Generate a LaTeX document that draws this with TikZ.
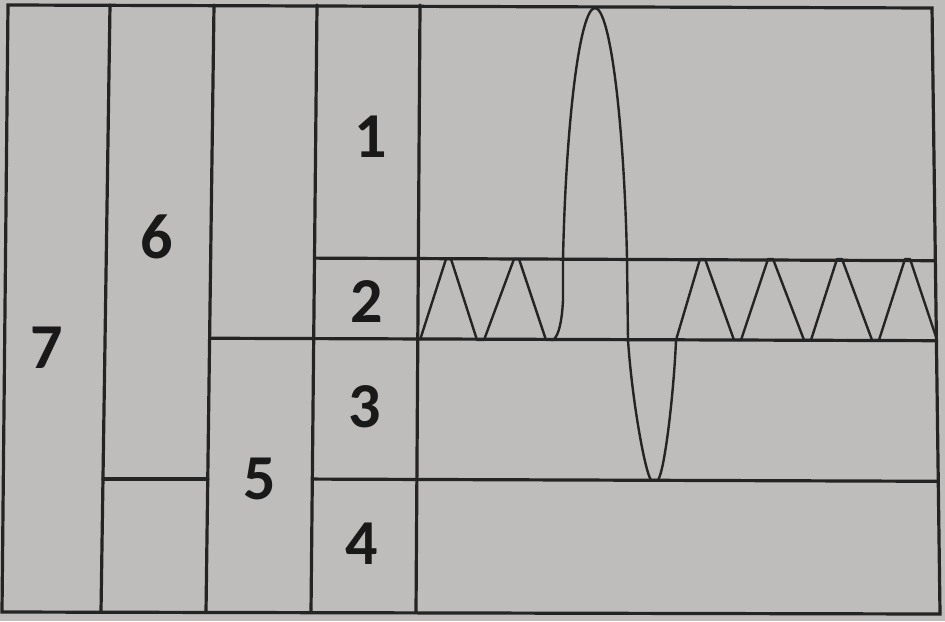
\documentclass[tikz,border=0pt]{standalone}
\usepackage{fontspec}
\setmainfont{Carlito}
\usepackage{tikz}
\usetikzlibrary{calc}
\definecolor{paper}{RGB}{191,189,187}
\definecolor{ink}{RGB}{36,36,36}

\begin{document}
\begin{tikzpicture}[
  x=0.5pt,y=-0.5pt,
  grid/.style={draw=ink,line width=1.6pt,line cap=round},
  wave/.style={draw=ink,line width=1.2pt,line join=round},
  num/.style={font=\fontsize{32}{32}\selectfont\bfseries,text=ink!70!black,inner sep=0pt}
]
\fill[paper] (0,0) rectangle (945,621);
\useasboundingbox (0,0) rectangle (945,621);

% column borders (top and bottom ends)
\coordinate (t0) at (8,5);   \coordinate (b0) at (2,612);
\coordinate (t1) at (110,5); \coordinate (b1) at (101,612);
\coordinate (t2) at (214,5); \coordinate (b2) at (206,612);
\coordinate (t3) at (317,5); \coordinate (b3) at (311,612);
\coordinate (t4) at (420,5); \coordinate (b4) at (416,612);
\coordinate (t5) at (932,8); \coordinate (b5) at (940,614);

\draw[grid] (t0) -- (t5) -- (b5) -- (b0) -- cycle;
\foreach \i in {1,...,4}
  \draw[grid] (t\i) -- (b\i);

% row borders
\draw[grid] ($(t3)!0.417!(b3)$) -- ($(t5)!0.417!(b5)$);
\draw[grid] ($(t2)!0.549!(b2)$) -- ($(t5)!0.549!(b5)$);
\draw[grid] ($(t1)!0.781!(b1)$) -- ($(t2)!0.781!(b2)$);
\draw[grid] ($(t3)!0.781!(b3)$) -- ($(t5)!0.781!(b5)$);

\node[num] (n1) at (371,137) {1};
\node[num] (n2) at (367,302) {2};
\node[num] (n3) at (365,407) {3};
\node[num] (n4) at (362,544) {4};
\node[num] (n5) at (260,479) {5};
\node[num] (n6) at (157,237) {6};
\node[num] (n7) at (47,348) {7};

% waveform
\draw[wave] (420,340) -- (446,259) -- (451,259) -- (477,340) -- (484,340)
  -- (514,259) -- (519,259) -- (546,340) -- (553,340)
  .. controls (559,336) and (562,320) .. (563,300) -- (563,259)
  .. controls (566,120) and (580,8) .. (595,8)
  .. controls (610,8) and (624,120) .. (627,259) -- (628,340)
  .. controls (632,400) and (645,472) .. (651,480) -- (658,480)
  .. controls (665,470) and (674,390) .. (676,340)
  -- (700,259) -- (705,259) -- (734,340) -- (741,340)
  -- (768,259) -- (773,259) -- (804,340) -- (811,340)
  -- (837,259) -- (842,259) -- (872,340) -- (879,340)
  -- (905,259) -- (910,259) -- (937,340);
\end{tikzpicture}
\end{document}
